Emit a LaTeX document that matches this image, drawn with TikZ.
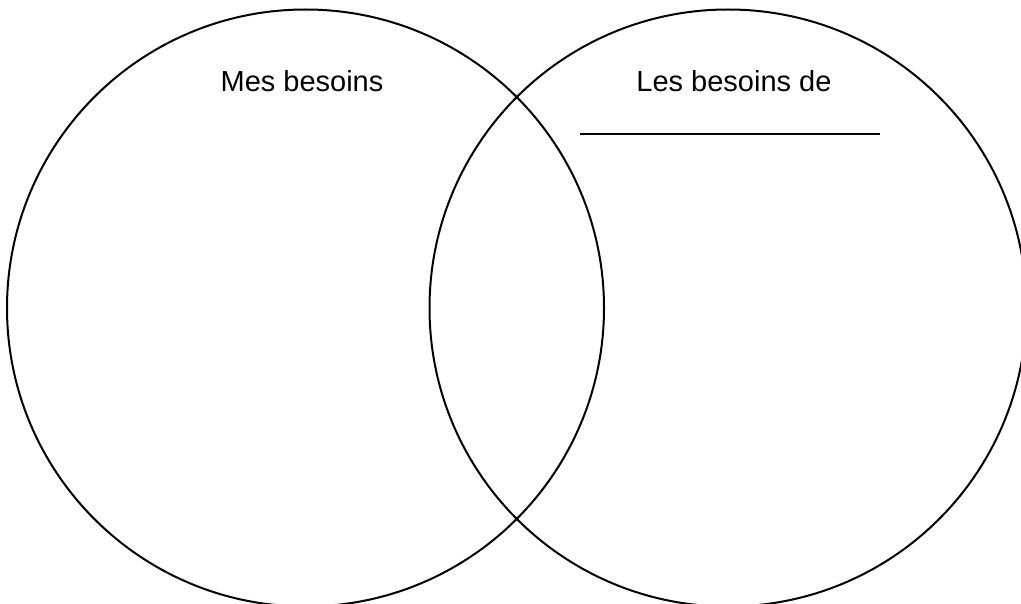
\documentclass[tikz,border=0pt]{standalone}
\usepackage{fontspec}
\setmainfont{Liberation Sans}
\begin{document}
\begin{tikzpicture}[x=1pt,y=-1pt,
  venn/.style={draw=black,line width=2pt},
  label/.style={font=\fontsize{29}{34}\selectfont,anchor=base,inner sep=0pt}]
\useasboundingbox (0,0) rectangle (1021,604);
\clip (0,0) rectangle (1021,604);
\node[venn,circle,minimum size=597pt,inner sep=0pt] (left) at (305.5,308) {};
\node[venn,circle,minimum size=597pt,inner sep=0pt] (right) at (728,308) {};
\node[label] (mes) at (302,92) {Mes besoins};
\node[label] (les) at (734,92) {Les besoins de};
\coordinate (ls) at (580,134);
\coordinate (le) at (880,134);
\draw[line width=2pt] (ls) -- (le);
\end{tikzpicture}
\end{document}
